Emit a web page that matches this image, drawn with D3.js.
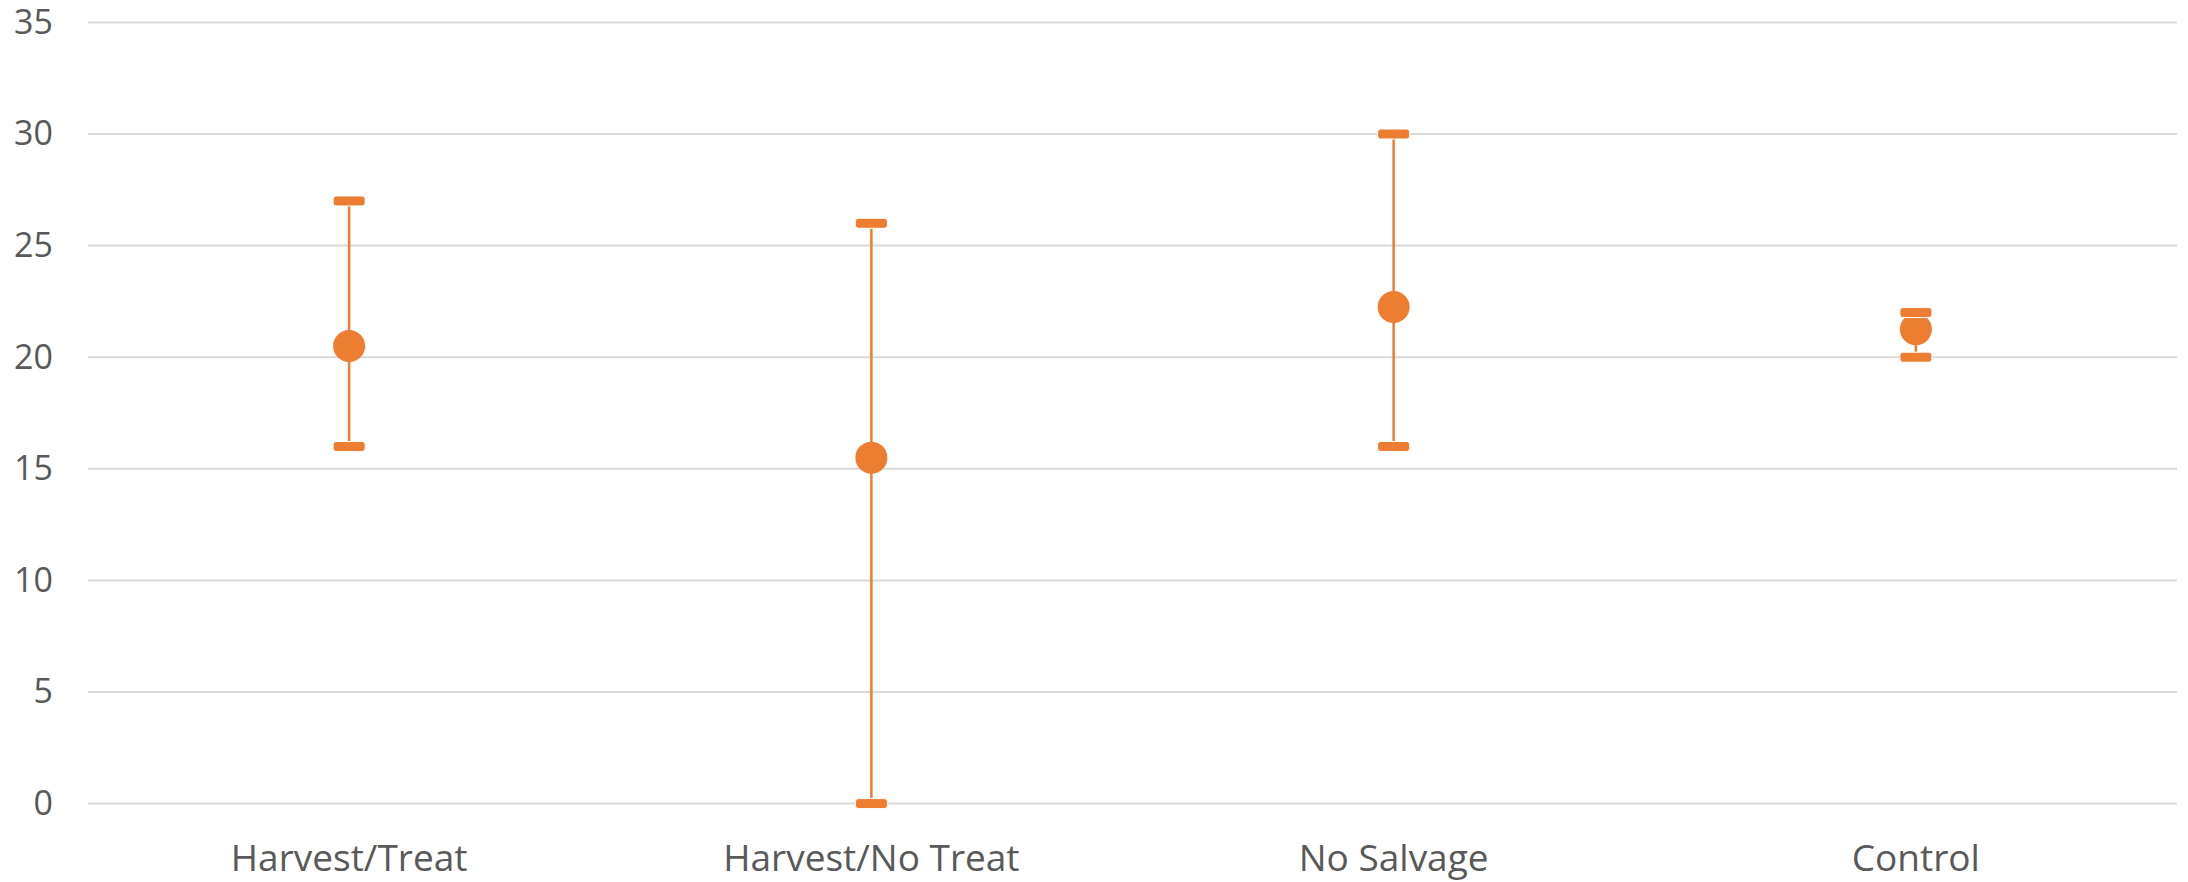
<html>
<head>
  <script src="https://d3js.org/d3.v7.min.js"></script>
</head>
<body style="margin:0; background-color:white;">
<script>

let categories = ["Harvest/Treat", "Harvest/No Treat", "No Salvage", "Control"];
let meanValues = [20.5, 15.5, 22.25, 21.25];
let upperValues = [27, 26, 30, 22];
let lowerValues = [16, 0, 16, 20];
let yTicks = [0, 5, 10, 15, 20, 25, 30, 35];

let elements = categories.map((c, i) => ({
  cat: c, mean: meanValues[i], hi: upperValues[i], lo: lowerValues[i]
}));

let canvasW = 2188;
let canvasH = 882;
let orange = "#ED7D31";
let textColor = "#595959";

let svg = d3.select("body").append("svg")
  .attr("width", canvasW)
  .attr("height", canvasH)
  .style("display", "block")
  .style("background-color", "white");

let x = d3.scaleBand()
  .domain(categories)
  .range([88, 2177]);

let y = d3.scaleLinear()
  .domain([0, 35])
  .range([803.6, 22.4]);

// gridlines
svg.selectAll()
  .data(yTicks)
  .enter()
  .append("line")
  .attr("x1", 88)
  .attr("x2", 2177)
  .attr("y1", d => y(d))
  .attr("y2", d => y(d))
  .attr("stroke", "#D9D9D9")
  .attr("stroke-width", 2);

// y axis labels
let yAxis = svg.append("g")
  .attr("transform", "translate(53,0)")
  .call(d3.axisLeft(y).tickValues(yTicks).tickSize(0).tickPadding(0));
yAxis.select(".domain").remove();
yAxis.selectAll("text")
  .attr("font-family", "'Open Sans', sans-serif")
  .attr("font-size", "34px")
  .attr("fill", textColor);

// x axis labels
let xAxis = svg.append("g")
  .attr("transform", "translate(0,803.6)")
  .call(d3.axisBottom(x).tickSize(0).tickPadding(0));
xAxis.select(".domain").remove();
xAxis.selectAll("text")
  .attr("dy", null)
  .attr("y", 67)
  .attr("font-family", "'Open Sans', sans-serif")
  .attr("font-size", "37px")
  .attr("fill", textColor);

let cx = d => x(d.cat) + x.bandwidth() / 2;

// error bar stems
svg.selectAll()
  .data(elements)
  .enter()
  .append("line")
  .attr("x1", cx)
  .attr("x2", cx)
  .attr("y1", d => y(d.hi))
  .attr("y2", d => y(d.lo))
  .attr("stroke", orange)
  .attr("stroke-width", 2.5);

// markers
svg.selectAll()
  .data(elements)
  .enter()
  .append("circle")
  .attr("cx", cx)
  .attr("cy", d => y(d.mean))
  .attr("r", 16)
  .attr("fill", orange);

// caps
let caps = [];
elements.forEach(d => { caps.push({cat: d.cat, v: d.hi}); caps.push({cat: d.cat, v: d.lo}); });

svg.selectAll()
  .data(caps)
  .enter()
  .append("rect")
  .attr("x", d => cx(d) - 16)
  .attr("y", d => y(d.v) - 5)
  .attr("width", 32)
  .attr("height", 10)
  .attr("rx", 3)
  .attr("fill", orange)
  .attr("stroke", "white")
  .attr("stroke-width", 1);

</script>
</body>
</html>
